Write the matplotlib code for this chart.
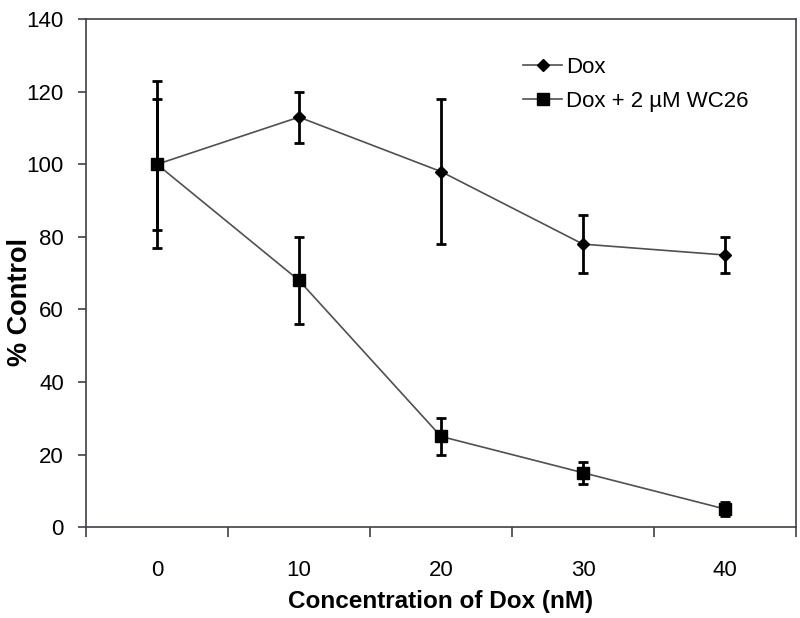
import numpy as np
import matplotlib.pyplot as plt

plt.rcParams['font.family'] = ['Liberation Sans', 'DejaVu Sans']

conc = ['0', '10', '20', '30', '40']
dox = [100, 113, 98, 78, 75]
dox_err = [18, 7, 20, 8, 5]
wc26 = [100, 68, 25, 15, 5]
wc26_err = [23, 12, 5, 3, 2]

x = np.arange(len(conc))
axcol = '#404048'

fig = plt.figure(figsize=(8, 6.18), dpi=100)
ax = fig.add_axes([0.1075, 0.147, 0.8875, 0.822])

ax.errorbar(x, dox, yerr=dox_err, fmt='none', ecolor='black', elinewidth=2.0,
            capsize=3.5, capthick=2.0, zorder=2)
ax.errorbar(x, wc26, yerr=wc26_err, fmt='none', ecolor='black', elinewidth=2.0,
            capsize=3.5, capthick=2.0, zorder=2)
ax.plot(x, dox, color='#505050', lw=1.2, marker='D', ms=6.5, mfc='black',
        mec='black', label='Dox', zorder=3)
ax.plot(x, wc26, color='#505050', lw=1.2, marker='s', ms=8, mfc='black',
        mec='black', label='Dox + 2 µM WC26', zorder=3)

ax.set_xlim(-0.5, len(conc) - 0.5)
ax.set_ylim(0, 140)
ax.set_yticks(np.arange(0, 141, 20))
ax.set_xticks(x)
ax.set_xticklabels(conc)
ax.set_xticks(np.arange(-0.5, len(conc)), minor=True)
ax.tick_params(axis='x', which='major', length=0, pad=24, labelsize=16)
ax.tick_params(axis='x', which='minor', length=7, width=1.2, color=axcol)
ax.tick_params(axis='y', length=6, width=1.2, color=axcol, labelsize=16, pad=10)
for s in ax.spines.values():
    s.set_color(axcol)
    s.set_linewidth(1.2)

ax.set_xlabel('Concentration of Dox (nM)', fontsize=17.5, fontweight='bold', labelpad=6)
ax.set_ylabel('% Control', fontsize=19.5, fontweight='bold')
ax.yaxis.set_label_coords(-0.074, 0.444)

ax.legend(loc='center left', bbox_to_anchor=(0.588, 0.872), frameon=False,
          fontsize=16, handlelength=1.75, handletextpad=0.15, labelspacing=0.6)

fig.savefig('out.png')
